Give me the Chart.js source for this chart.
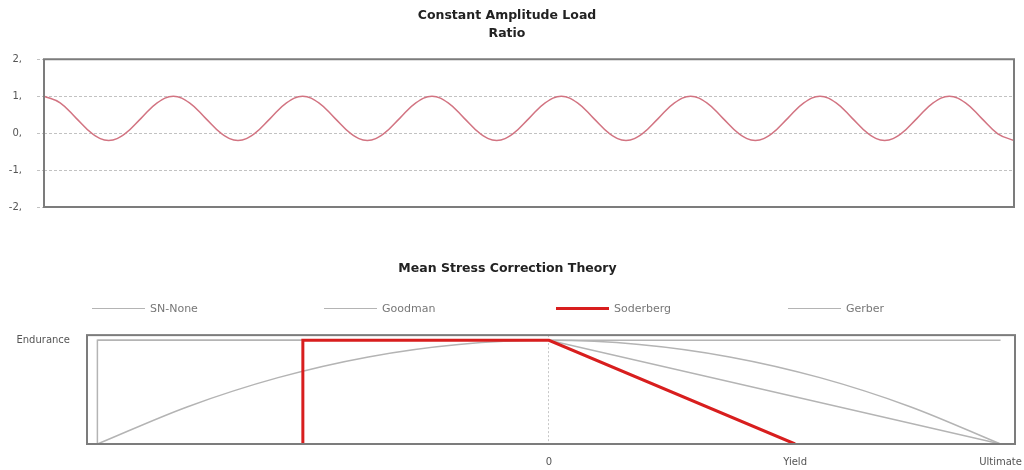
<!DOCTYPE html>
<html>
<head>
<meta charset="utf-8">
<title>Constant Amplitude Load / Mean Stress Correction Theory</title>
<script src="https://cdn.jsdelivr.net/npm/chart.js@4.4.1/dist/chart.umd.min.js"></script>
<style>
  html, body { margin: 0; padding: 0; background: #fff; }
  body { width: 1024px; height: 470px; position: relative; overflow: hidden; font-family: 'DejaVu Sans', sans-serif; }
  #load_box { position: absolute; left: 0; top: 0; width: 1024px; height: 225px; }
  #theory_box { position: absolute; left: 0; top: 240px; width: 1024px; height: 230px; }
  #theory_legend { position: absolute; left: 92px; top: 300px; height: 16px; display: flex; }
  .lg-item { width: 232px; display: flex; align-items: center; font-size: 11px; color: #777; }
  .lg-line { width: 53px; margin-right: 5px; }
</style>
</head>
<body>
<div id="load_box"><canvas id="chart_load"></canvas></div>
<div id="theory_box"><canvas id="chart_theory"></canvas></div>
<div id="theory_legend"></div>
<script>
/**
 * @name Load ratio data
 * values, one point every 1/8 of a cycle
 */
var loadRatio = [
  1.0, 0.82, 0.4, -0.02, -0.2, -0.02, 0.4, 0.82,
  1.0, 0.82, 0.4, -0.02, -0.2, -0.02, 0.4, 0.82,
  1.0, 0.82, 0.4, -0.02, -0.2, -0.02, 0.4, 0.82,
  1.0, 0.82, 0.4, -0.02, -0.2, -0.02, 0.4, 0.82,
  1.0, 0.82, 0.4, -0.02, -0.2, -0.02, 0.4, 0.82,
  1.0, 0.82, 0.4, -0.02, -0.2, -0.02, 0.4, 0.82,
  1.0, 0.82, 0.4, -0.02, -0.2, -0.02, 0.4, 0.82,
  1.0, 0.82, 0.4, -0.02, -0.2
];
var loadTicks = [2, 1, 0, -1, -2];

/**
 * @name Mean stress correction data
 * x = mean stress (Ultimate = 1), y = alternating stress (Endurance = 1)
 */
var theoryNames = ['SN-None', 'Goodman', 'Soderberg', 'Gerber'];
var snNonePts = [[-1, 0], [-1, 1], [1, 1]];
var goodmanPts = [[-1, 1], [0, 1], [1, 0]];
var soderbergPts = [[-0.545, 0], [-0.545, 1], [0, 1], [0.545, 0]];
var gerberPts = [[-1, 0], [-0.8, 0.36], [-0.6, 0.64], [-0.4, 0.84], [-0.2, 0.96], [0, 1],
  [0.2, 0.96], [0.4, 0.84], [0.6, 0.64], [0.8, 0.36], [1, 0]];
var stressTickValues = [0, 0.545, 1];
var stressTickLabels = ['0', 'Yield', 'Ultimate'];
var amplitudeTickValues = [1];
var amplitudeTickLabels = ['Endurance'];

Chart.defaults.font.family = "'DejaVu Sans', sans-serif";
Chart.defaults.animation = false;

// grey frame round the plot area
var frameBox = {
  id: 'frameBox',
  afterDatasetsDraw: function(chart) {
    var a = chart.chartArea;
    var c = chart.ctx;
    c.save();
    c.strokeStyle = '#7c7c7c';
    c.lineWidth = 2;
    c.strokeRect(a.left, a.top, a.right - a.left, a.bottom - a.top);
    c.restore();
  }
};

function toXY(pts) {
  return pts.map(function(p) { return { x: p[0], y: p[1] }; });
}

/**
 * @name Constant amplitude chart
 */
new Chart(document.getElementById('chart_load').getContext('2d'), {
  type: 'line',
  data: {
    labels: loadRatio.map(function(v, i) { return i; }),
    datasets: [{
      data: loadRatio,
      borderColor: '#d27482',
      borderWidth: 1.5,
      pointRadius: 0,
      tension: 0.4
    }]
  },
  options: {
    responsive: true,
    maintainAspectRatio: false,
    layout: { padding: { left: 0, right: 10, top: 0, bottom: 18 } },
    plugins: {
      legend: { display: false },
      tooltip: { enabled: false },
      title: {
        display: true,
        text: ['Constant Amplitude Load', 'Ratio'],
        color: '#222',
        font: { size: 12.5, weight: 'bold', lineHeight: 1.45 },
        padding: { top: 7, bottom: 16 }
      }
    },
    scales: {
      x: { display: false },
      y: {
        min: -2,
        max: 2,
        afterBuildTicks: function(scale) {
          scale.ticks = loadTicks.map(function(v) { return { value: v }; });
        },
        afterFit: function(scale) {
          scale.width = 44;
          scale.paddingTop = 0;
          scale.paddingBottom = 0;
        },
        ticks: {
          color: '#555',
          font: { size: 10 },
          padding: 15,
          callback: function(value) { return value + ','; }
        },
        grid: {
          color: '#c2c2c2',
          tickLength: 7,
          tickBorderDash: [3, 2]
        },
        border: { display: false, dash: [3, 2] }
      }
    }
  },
  plugins: [frameBox]
});

/**
 * @name Mean stress correction chart
 */
var grey = '#b4b4b4';
var theoryChart = new Chart(document.getElementById('chart_theory').getContext('2d'), {
  type: 'scatter',
  data: {
    datasets: [
      { label: theoryNames[0], data: toXY(snNonePts), borderColor: grey, borderWidth: 1.5 },
      { label: theoryNames[1], data: toXY(goodmanPts), borderColor: grey, borderWidth: 1.5 },
      { label: theoryNames[2], data: toXY(soderbergPts), borderColor: '#d81e1e', borderWidth: 3, order: -1 },
      { label: theoryNames[3], data: toXY(gerberPts), borderColor: grey, borderWidth: 1.5, cubicInterpolationMode: 'monotone' }
    ]
  },
  options: {
    responsive: true,
    maintainAspectRatio: false,
    showLine: true,
    elements: { point: { radius: 0 } },
    layout: { padding: { left: 0, right: 9, top: 0, bottom: 0 } },
    plugins: {
      legend: { display: false },
      tooltip: { enabled: false },
      title: {
        display: true,
        text: 'Mean Stress Correction Theory',
        color: '#222',
        font: { size: 12.5, weight: 'bold', lineHeight: 1.45 },
        padding: { top: 20, bottom: 57 }
      }
    },
    scales: {
      x: {
        type: 'linear',
        min: -1.023,
        max: 1.032,
        afterBuildTicks: function(scale) {
          scale.ticks = stressTickValues.map(function(v) { return { value: v }; });
        },
        afterFit: function(scale) {
          scale.height = 26;
          // let "Ultimate" run off the edge like the original
          scale.paddingLeft = 0;
          scale.paddingRight = 0;
        },
        ticks: {
          autoSkip: false,
          maxRotation: 0,
          color: '#555',
          font: { size: 10 },
          padding: 12,
          callback: function(value, index) { return stressTickLabels[index]; }
        },
        grid: {
          drawTicks: false,
          color: function(ctx) {
            return ctx.tick && ctx.tick.value === 0 ? '#c8c8c8' : 'rgba(0,0,0,0)';
          }
        },
        border: { display: false, dash: [2, 2] }
      },
      y: {
        min: 0,
        max: 1.05,
        afterBuildTicks: function(scale) {
          scale.ticks = amplitudeTickValues.map(function(v) { return { value: v }; });
        },
        afterFit: function(scale) {
          scale.width = 87;
          scale.paddingTop = 0;
          scale.paddingBottom = 0;
        },
        ticks: {
          color: '#555',
          font: { size: 10 },
          padding: 17,
          callback: function(value, index) { return amplitudeTickLabels[index]; }
        },
        grid: { display: false, drawTicks: false },
        border: { display: false }
      }
    }
  },
  plugins: [frameBox]
});

// html legend with evenly spaced items
var $legend = document.getElementById('theory_legend');
theoryChart.data.datasets.forEach(function(ds) {
  var item = document.createElement('div');
  item.className = 'lg-item';
  var line = document.createElement('span');
  line.className = 'lg-line';
  line.style.borderTop = ds.borderWidth + 'px solid ' + ds.borderColor;
  var txt = document.createElement('span');
  txt.textContent = ds.label;
  item.appendChild(line);
  item.appendChild(txt);
  $legend.appendChild(item);
});
</script>
</body>
</html>
